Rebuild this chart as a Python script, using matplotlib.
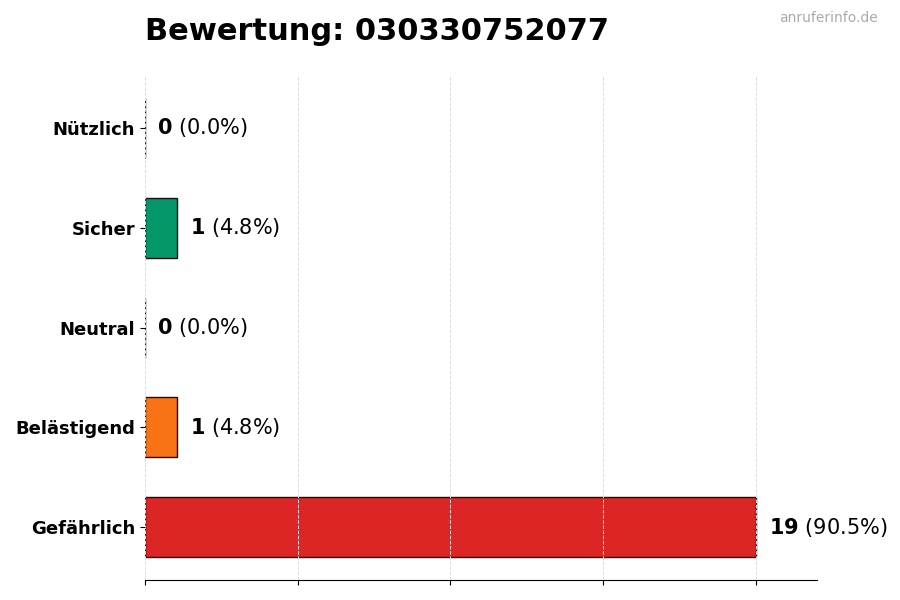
import matplotlib.pyplot as plt

# rating counts for one phone number
categories = ['Nützlich', 'Sicher', 'Neutral', 'Belästigend', 'Gefährlich']
counts = [0, 1, 0, 1, 19]
colors = ['#2563eb', '#059669', '#6b7280', '#f97316', '#dc2626']
number = '030330752077'

total = sum(counts)
ypos = list(range(len(categories)))[::-1]

fig, ax = plt.subplots(figsize=(9, 6), dpi=100)
fig.subplots_adjust(left=0.161, right=0.908, top=0.875, bottom=0.033)

ax.barh(ypos, counts, height=0.6, color=colors, edgecolor='#111111', linewidth=1)

for y, c in zip(ypos, counts):
    pct = c / total * 100
    ax.annotate(r'$\bf{%d}$ (%.1f%%)' % (c, pct), xy=(c, y), xytext=(9, 0),
                textcoords='offset points', va='center', ha='left', fontsize=15)

ax.set_yticks(ypos)
ax.set_yticklabels(categories, fontsize=13, fontweight='bold')
mx = max(counts)
ax.set_xlim(0, mx * 1.1)
ax.set_xticks([mx * i / 4 for i in range(5)])
ax.set_xticklabels([])
ax.xaxis.grid(True, linestyle='--', color='#dddddd', linewidth=0.7)
ax.set_axisbelow(False)
for s in ['top', 'right', 'left']:
    ax.spines[s].set_visible(False)

fig.text(0.161, 0.947, 'Bewertung: ' + number, fontsize=22, fontweight='bold',
         ha='left', va='center')
fig.text(0.975, 0.97, 'anruferinfo.de', fontsize=10, color='#aaaaaa',
         ha='right', va='center')

plt.savefig('out.png')
